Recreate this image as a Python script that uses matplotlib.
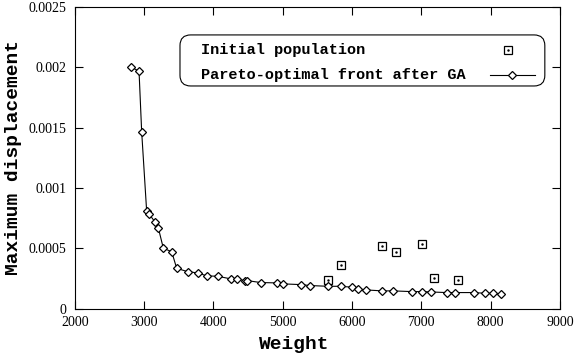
import matplotlib
matplotlib.use("Agg")
import matplotlib.pyplot as plt
from matplotlib.patches import FancyBboxPatch

# Pareto-optimal front after GA
front_weight = [2808, 2928, 2966, 3038, 3077, 3163, 3207, 3279, 3399, 3471,
                3630, 3784, 3904, 4063, 4255, 4337, 4457, 4490, 4683, 4913,
                5000, 5264, 5400, 5654, 5846, 6000, 6087, 6197, 6438, 6591,
                6865, 7014, 7135, 7370, 7481, 7755, 7923, 8034, 8144]
front_disp = [0.00200, 0.00197, 0.001467, 0.000809, 0.000782, 0.000716, 0.000669,
              0.000501, 0.000474, 0.000336, 0.000308, 0.000297, 0.000273, 0.000270,
              0.000248, 0.000248, 0.000234, 0.000234, 0.000218, 0.000215, 0.000207,
              0.000201, 0.000193, 0.000187, 0.000187, 0.000179, 0.000165, 0.000157,
              0.000149, 0.000149, 0.000143, 0.000143, 0.000140, 0.000135, 0.000135,
              0.000135, 0.000129, 0.000129, 0.000124]

# Initial population
init_weight = [5654, 5846, 6438, 6630, 7014, 7178, 7529]
init_disp = [0.000242, 0.000366, 0.000523, 0.000468, 0.000537, 0.000253, 0.000242]

xticks = [2000, 3000, 4000, 5000, 6000, 7000, 8000, 9000]
yticks = [0, 0.0005, 0.001, 0.0015, 0.002, 0.0025]
ytick_labels = ["0", "0.0005", "0.001", "0.0015", "0.002", "0.0025"]
labels = ["Initial population", "Pareto-optimal front after GA"]

MONO = "Liberation Mono"
SERIF = "Liberation Serif"

fig = plt.figure(figsize=(5.76, 3.6), dpi=100)
ax = fig.add_axes([0.1297, 0.142, 0.8423, 0.839])

sq_style = dict(ls="none", marker="s", ms=5.3, mfc="white", mec="black", mew=0.9)
dot_style = dict(ls="none", marker=".", ms=1.5, color="black")
fr_style = dict(color="black", lw=0.8, marker="D", ms=4.5, mfc="white", mec="black", mew=0.9)

ax.plot(init_weight, init_disp, **sq_style)
ax.plot(init_weight, init_disp, **dot_style)
ax.plot(front_weight, front_disp, **fr_style)

ax.set_xlim(2000, 9000)
ax.set_ylim(0, 0.0025)
ax.set_xticks(xticks)
ax.set_xticklabels([str(t) for t in xticks], family=SERIF, fontsize=10)
ax.set_yticks(yticks)
ax.set_yticklabels(ytick_labels, family=SERIF, fontsize=10)
ax.tick_params(direction="in", length=6, width=0.8, top=True, right=True)
ax.tick_params(axis="x", pad=5)
ax.tick_params(axis="y", pad=6)

ax.set_xlabel("Weight", family=MONO, fontweight="bold", fontsize=14, va="center")
ax.xaxis.set_label_coords(0.452, -0.119)
ax.set_ylabel("Maximum displacement", family=MONO, fontweight="bold", fontsize=14, va="center")
ax.yaxis.set_label_coords(-0.127, 0.5)

# legend box (gnuplot style: text left, samples right)
box = FancyBboxPatch((0.217, 0.738), 0.752, 0.169, transform=ax.transAxes,
                     boxstyle="round,pad=0,rounding_size=0.022", mutation_aspect=1.6,
                     fc="white", ec="black", lw=0.8, zorder=5)
ax.add_patch(box)
ax.text(0.261, 0.858, labels[0], transform=ax.transAxes, family=MONO, fontweight="bold",
        fontsize=11, va="center", ha="left", zorder=6)
ax.text(0.261, 0.775, labels[1], transform=ax.transAxes, family=MONO, fontweight="bold",
        fontsize=11, va="center", ha="left", zorder=6)
ax.plot([0.893], [0.858], transform=ax.transAxes, zorder=6, **sq_style)
ax.plot([0.893], [0.858], transform=ax.transAxes, zorder=7, **dot_style)
ax.plot([0.856, 0.949], [0.775, 0.775], transform=ax.transAxes, color="black", lw=0.8, zorder=6)
ax.plot([0.901], [0.775], transform=ax.transAxes, zorder=7,
        **{k: v for k, v in fr_style.items() if k not in ("color", "lw")})

fig.savefig("out.png", dpi=100)
